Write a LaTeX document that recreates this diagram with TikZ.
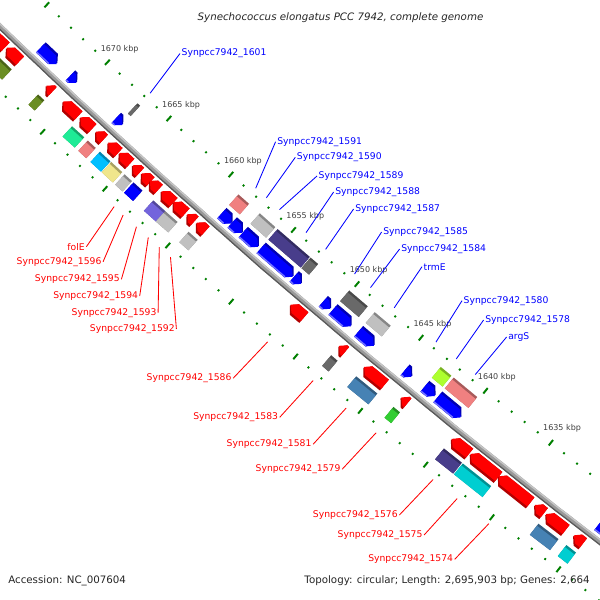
\documentclass[tikz,border=0pt]{standalone}
\usepackage{fontspec}
\setmainfont{DejaVu Sans}
\usetikzlibrary{positioning}

\definecolor{cgred}{RGB}{255,0,0}
\definecolor{cgblue}{RGB}{0,0,255}
\definecolor{olived}{RGB}{107,142,35}
\definecolor{springg}{RGB}{30,235,150}
\definecolor{lcoral}{RGB}{240,128,128}
\definecolor{deepsky}{RGB}{0,191,255}
\definecolor{khakiy}{RGB}{240,230,140}
\definecolor{silverg}{RGB}{192,192,192}
\definecolor{dimg}{RGB}{105,105,105}
\definecolor{mslate}{RGB}{115,100,220}
\definecolor{dslate}{RGB}{72,61,139}
\definecolor{steelb}{RGB}{70,130,180}
\definecolor{limeg}{RGB}{50,205,50}
\definecolor{greenyel}{RGB}{173,255,47}
\definecolor{dturq}{RGB}{0,206,209}
\definecolor{tickgreen}{RGB}{0,128,0}

\pgfmathdeclarefunction{kb}{1}{\pgfmathparse{#1*0.133536-90}}

\newcommand{\gbox}[7]{%
  \fill[#5!70!black] ({kb(#1)}:#3) -- ({kb(#2)}:#3) -- ({kb(#2)}:#4) -- ({kb(#1)}:#4) -- cycle;
  \fill[#5] ({kb(#1)}:#6) -- ({kb(#2)}:#6) -- ({kb(#2)}:#7) -- ({kb(#1)}:#7) -- cycle;}
\newcommand{\garrow}[7]{%
  \pgfmathsetmacro\gn{#2+(#1-#2)/abs(#1-#2)*min(0.36,abs(#1-#2))}%
  \fill[#5!70!black] ({kb(#1)}:#3) -- ({kb(\gn)}:#3) -- ({kb(#2)}:{(#3+#4)/2}) -- ({kb(\gn)}:#4) -- ({kb(#1)}:#4) -- cycle;
  \fill[#5] ({kb(#1)}:#6) -- ({kb(\gn)}:#6) -- ({kb(#2)}:{(#6+#7)/2}) -- ({kb(\gn)}:#7) -- ({kb(#1)}:#7) -- cycle;}
\newcommand{\fwd}[2]{\pgfmathsetmacro\gpa{#1-0.05}\pgfmathsetmacro\gpb{#2+0.05}%
  \garrow{\gpa}{\gpb}{7219}{7233}{cgred}{7219}{7230.5}}
\newcommand{\rev}[2]{\pgfmathsetmacro\gpa{#1-0.05}\pgfmathsetmacro\gpb{#2+0.05}%
  \garrow{\gpb}{\gpa}{7194}{7208}{cgblue}{7196.5}{7208}%
  \fill[cgblue!55!white] ({kb(\gpb)}:7206.6) -- ({kb(\gn)}:7206.6) -- ({kb(\gn)}:7208) -- ({kb(\gpb)}:7208) -- cycle;}
\newcommand{\ocog}[3]{\pgfmathsetmacro\gpa{#1-0.05}\pgfmathsetmacro\gpb{#2+0.05}%
  \gbox{\gpa}{\gpb}{7237}{7251}{#3}{7239.5}{7251}}
\newcommand{\icog}[3]{\pgfmathsetmacro\gpa{#1-0.05}\pgfmathsetmacro\gpb{#2+0.05}%
  \gbox{\gpa}{\gpb}{7176}{7190}{#3}{7178.5}{7190}}

\begin{document}
\begin{tikzpicture}[x=0.025cm,y=-0.025cm,
  lblb/.style={text=cgblue,font=\fontsize{6.56}{8}\selectfont,anchor=west,inner sep=1pt},
  lblr/.style={text=cgred,font=\fontsize{6.56}{8}\selectfont,anchor=east,inner sep=1pt},
  bline/.style={cgblue,line width=0.6pt},
  rline/.style={cgred,line width=0.6pt},
  kbplbl/.style={text=black!75,font=\fontsize{5.7}{7}\selectfont,inner sep=0pt},
  tickmaj/.style={tickgreen,line width=1.4pt},
  tickmin/.style={tickgreen,line width=1.3pt},
  infotext/.style={text=black!85,font=\fontsize{7.3}{9}\selectfont,inner sep=0pt}]
\useasboundingbox[fill=white] (0,0) rectangle (600,600);
\begin{scope}
\clip (0,0) rectangle (600,600);
\begin{scope}[shift={(4994,-5179)}]
\draw[line width=3.8pt,gray!80] plot[domain=127:134.5,samples=80] (\x:7214);
\draw[line width=1pt,gray!45] plot[domain=127:134.5,samples=80] (\x:7212.2);
\draw[line width=0.9pt,gray!70!black] plot[domain=127:134.5,samples=80] (\x:7216.2);

\foreach \k in {1625,...,1680}{
  \pgfmathtruncatemacro\m{mod(\k,5)}
  \ifnum\m=0
    \draw[tickmaj] ({kb(\k)}:7162.5) -- ({kb(\k)}:7169.5);
    \draw[tickmaj] ({kb(\k)}:7257.5) -- ({kb(\k)}:7264.5);
  \else
    \draw[tickmin] ({kb(\k)}:7165) -- ({kb(\k)}:7167);
    \draw[tickmin] ({kb(\k)}:7260) -- ({kb(\k)}:7262);
  \fi
}
\foreach \k in {1635,1640,...,1670}
  \node[kbplbl] (t\k) at ({kb(\k)}:7148) {\k\ kbp};

\fwd{1675.1}{1676.6}
\fwd{1673.91}{1674.91}
\fwd{1671.25}{1671.65}
\fwd{1669.14}{1670.28}
\fwd{1668.02}{1668.89}
\fwd{1667.09}{1667.63}
\fwd{1665.91}{1666.65}
\fwd{1664.96}{1665.75}
\fwd{1664.18}{1664.67}
\fwd{1663.34}{1663.96}
\fwd{1662.68}{1663.30}
\fwd{1661.50}{1662.37}
\fwd{1660.55}{1661.42}
\fwd{1659.83}{1660.32}
\fwd{1658.95}{1659.57}
\fwd{1651.17}{1652.17}
\fwd{1647.99}{1648.39}
\fwd{1644.93}{1646.45}
\fwd{1643.19}{1643.59}
\fwd{1638.46}{1639.72}
\fwd{1636.23}{1638.29}
\fwd{1633.8}{1636.15}
\fwd{1632.78}{1633.40}
\fwd{1631.15}{1632.55}
\fwd{1629.85}{1630.47}

\ocog{1673.91}{1674.91}{olived}
\ocog{1671.25}{1671.65}{olived}
\ocog{1668.02}{1668.89}{springg}
\ocog{1667.09}{1667.63}{lcoral}
\ocog{1665.91}{1666.65}{deepsky}
\ocog{1664.96}{1665.75}{khakiy}
\ocog{1664.18}{1664.67}{silverg}
\ocog{1663.34}{1663.96}{cgblue}
\ocog{1661.50}{1662.37}{mslate}
\ocog{1660.55}{1661.42}{silverg}
\ocog{1658.95}{1659.57}{silverg}
\ocog{1647.99}{1648.39}{dimg}
\ocog{1644.93}{1646.45}{steelb}
\ocog{1643.19}{1643.59}{limeg}
\ocog{1638.46}{1639.72}{dslate}
\ocog{1636.23}{1638.29}{dturq}
\ocog{1631.15}{1632.55}{steelb}
\ocog{1629.85}{1630.47}{dturq}

\rev{1672.19}{1673.45}
\rev{1670.57}{1671.02}
\rev{1666.85}{1667.3}
\rev{1658.08}{1658.82}
\rev{1657.25}{1657.99}
\rev{1655.98}{1657.12}
\rev{1653.25}{1655.7}
\rev{1652.6}{1653.1}
\rev{1650.31}{1650.81}
\rev{1648.7}{1650.05}
\rev{1646.9}{1648.05}
\rev{1644.0}{1644.45}
\rev{1642.2}{1642.93}
\rev{1640.2}{1641.93}
\rev{1628.8}{1629.7}

\icog{1666.84}{1666.96}{dimg}
\icog{1658.08}{1658.82}{lcoral}
\icog{1655.98}{1657.12}{silverg}
\icog{1653.25}{1655.7}{dslate}
\icog{1652.6}{1653.1}{dimg}
\icog{1648.7}{1650.05}{dimg}
\icog{1646.9}{1648.05}{silverg}
\icog{1642.2}{1642.93}{greenyel}
\icog{1640.2}{1641.93}{lcoral}

\coordinate (e1601) at ({kb(1666.86)}:7160);
\coordinate (e1591) at ({kb(1658.35)}:7160);
\coordinate (e1590) at ({kb(1657.49)}:7160);
\coordinate (e1589) at ({kb(1656.43)}:7160);
\coordinate (e1588) at ({kb(1654.32)}:7160);
\coordinate (e1587) at ({kb(1652.78)}:7160);
\coordinate (e1585) at ({kb(1650.5)}:7160);
\coordinate (e1584) at ({kb(1649.25)}:7160);
\coordinate (etrmE) at ({kb(1647.38)}:7160);
\coordinate (e1580) at ({kb(1644.14)}:7160);
\coordinate (e1578) at ({kb(1642.56)}:7160);
\coordinate (eargS) at ({kb(1641.09)}:7160);
\coordinate (efolE) at ({kb(1663.9)}:7268);
\coordinate (e1596) at ({kb(1663.17)}:7268);
\coordinate (e1595) at ({kb(1662.12)}:7268);
\coordinate (e1594) at ({kb(1661.18)}:7268);
\coordinate (e1593) at ({kb(1660.31)}:7268);
\coordinate (e1592) at ({kb(1659.43)}:7268);
\coordinate (e1586) at ({kb(1651.82)}:7268);
\coordinate (e1583) at ({kb(1648.29)}:7268);
\coordinate (e1581) at ({kb(1645.75)}:7268);
\coordinate (e1579) at ({kb(1643.46)}:7268);
\coordinate (e1576) at ({kb(1639.11)}:7268);
\coordinate (e1575) at ({kb(1637.3)}:7268);
\coordinate (e1574) at ({kb(1634.91)}:7268);
\end{scope}
\end{scope}

\node[infotext,font=\fontsize{7.3}{9}\selectfont\itshape] (title) at (340.5,18) {Synechococcus elongatus PCC 7942, complete genome};
\node[infotext,anchor=west] (acc) at (8,581) {Accession: NC\_007604};
\node[infotext,anchor=east] (topo) at (590,581) {Topology: circular; Length: 2,695,903 bp; Genes: 2,664};

\node[lblb] (l1601) at (180,53.5) {Synpcc7942\_1601};
\node[lblb] (l1591) at (275.6,141.7) {Synpcc7942\_1591};
\node[lblb] (l1590) at (295.3,157.3) {Synpcc7942\_1590};
\node[lblb] (l1589) at (317,176) {Synpcc7942\_1589};
\node[lblb] (l1588) at (333.6,192) {Synpcc7942\_1588};
\node[lblb] (l1587) at (353.6,209) {Synpcc7942\_1587};
\node[lblb] (l1585) at (381.6,232) {Synpcc7942\_1585};
\node[lblb] (l1584) at (399.6,249) {Synpcc7942\_1584};
\node[lblb] (ltrmE) at (422,266.7) {trmE};
\node[lblb] (l1580) at (462,300.7) {Synpcc7942\_1580};
\node[lblb] (l1578) at (483.6,320) {Synpcc7942\_1578};
\node[lblb] (largS) at (506.6,337) {argS};

\node[lblr] (lfolE) at (86.4,246.7) {folE};
\node[lblr] (l1596) at (103.1,261.7) {Synpcc7942\_1596};
\node[lblr] (l1595) at (121.4,279.3) {Synpcc7942\_1595};
\node[lblr] (l1594) at (139.7,296) {Synpcc7942\_1594};
\node[lblr] (l1593) at (158.1,312.7) {Synpcc7942\_1593};
\node[lblr] (l1592) at (176.4,329) {Synpcc7942\_1592};
\node[lblr] (l1586) at (233.1,378.3) {Synpcc7942\_1586};
\node[lblr] (l1583) at (279.7,417.3) {Synpcc7942\_1583};
\node[lblr] (l1581) at (313.1,444.3) {Synpcc7942\_1581};
\node[lblr] (l1579) at (342.1,469.3) {Synpcc7942\_1579};
\node[lblr] (l1576) at (399.4,515) {Synpcc7942\_1576};
\node[lblr] (l1575) at (424.1,535) {Synpcc7942\_1575};
\node[lblr] (l1574) at (454.7,559.3) {Synpcc7942\_1574};

\draw[bline] (l1601.west) -- (e1601);
\draw[bline] (l1591.west) -- (e1591);
\draw[bline] (l1590.west) -- (e1590);
\draw[bline] (l1589.west) -- (e1589);
\draw[bline] (l1588.west) -- (e1588);
\draw[bline] (l1587.west) -- (e1587);
\draw[bline] (l1585.west) -- (e1585);
\draw[bline] (l1584.west) -- (e1584);
\draw[bline] (ltrmE.west) -- (etrmE);
\draw[bline] (l1580.west) -- (e1580);
\draw[bline] (l1578.west) -- (e1578);
\draw[bline] (largS.west) -- (eargS);

\draw[rline] (lfolE.east) -- (efolE);
\draw[rline] (l1596.east) -- (e1596);
\draw[rline] (l1595.east) -- (e1595);
\draw[rline] (l1594.east) -- (e1594);
\draw[rline] (l1593.east) -- (e1593);
\draw[rline] (l1592.east) -- (e1592);
\draw[rline] (l1586.east) -- (e1586);
\draw[rline] (l1583.east) -- (e1583);
\draw[rline] (l1581.east) -- (e1581);
\draw[rline] (l1579.east) -- (e1579);
\draw[rline] (l1576.east) -- (e1576);
\draw[rline] (l1575.east) -- (e1575);
\draw[rline] (l1574.east) -- (e1574);
\end{tikzpicture}
\end{document}
